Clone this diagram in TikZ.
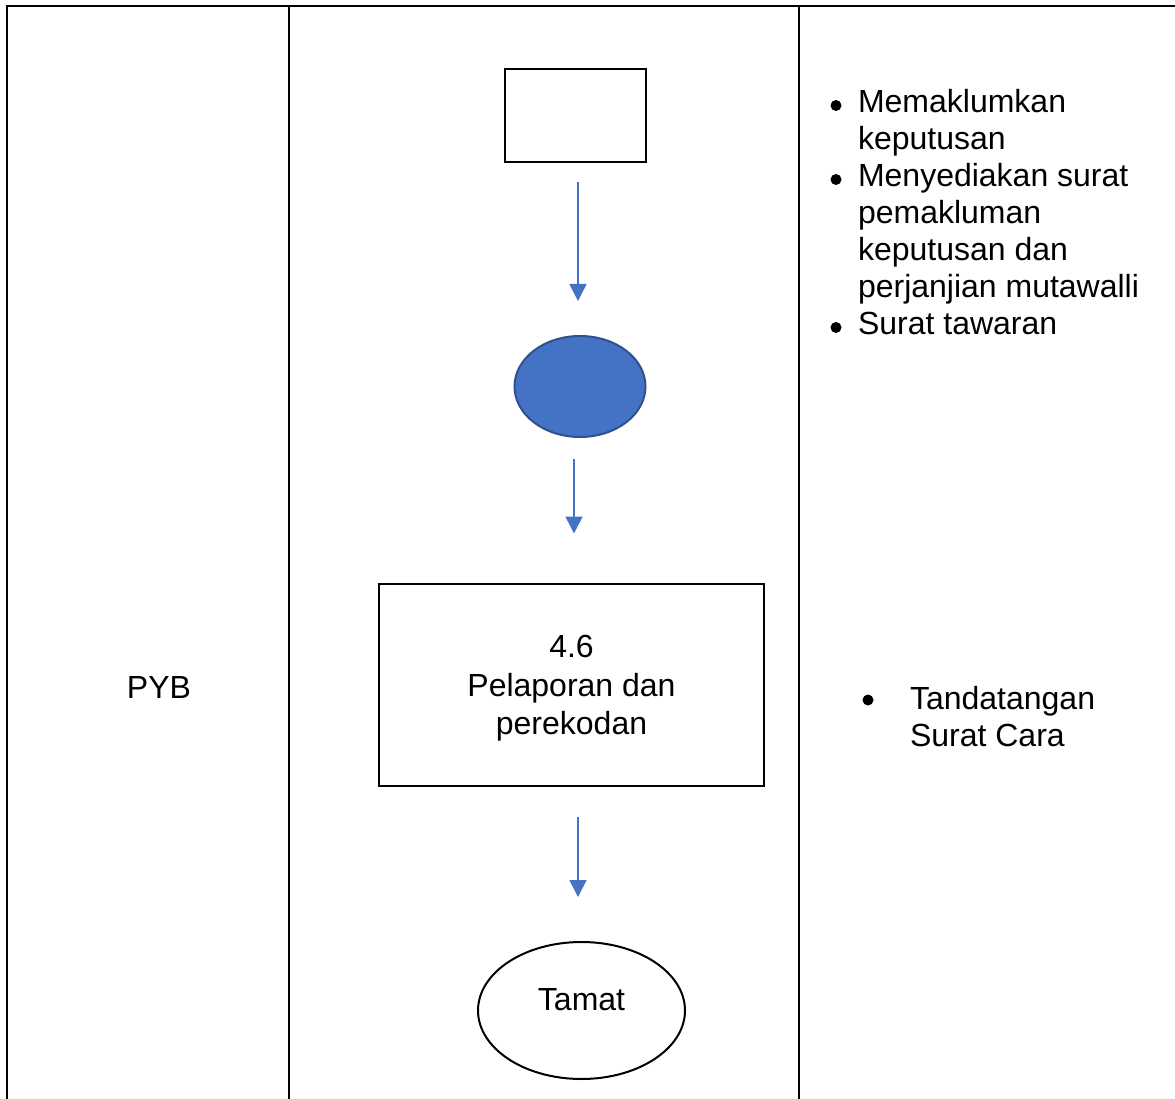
\documentclass[tikz,border=0pt]{standalone}
\usepackage{fontspec}
\setmainfont{Liberation Sans}
\usetikzlibrary{shapes.geometric,arrows.meta,calc}
\definecolor{flowblue}{HTML}{4472C4}
\definecolor{ovaledge}{HTML}{2F528F}
\begin{document}
\begin{tikzpicture}[x=1pt,y=-1pt,
  every node/.style={font=\fontsize{32}{38.5}\selectfont, inner sep=0pt, outer sep=0pt},
  gridline/.style={line width=2.4pt, black},
  procbox/.style={draw=black, line width=2pt, rectangle, align=center},
  bluefill/.style={draw=ovaledge, fill=flowblue, line width=2pt, ellipse},
  endoval/.style={draw=black, line width=2pt, ellipse},
  flow/.style={draw=flowblue, line width=1.5pt, -{Triangle[width=17pt,length=17pt,fill=flowblue]}},
  bulletdot/.style={fill=black, circle, minimum size=11pt},
  txt/.style={anchor=base west}
]
\useasboundingbox (0,0) rectangle (1175,1099);
% table lines
\draw[gridline] (7,1099) -- (7,6) -- (1175,6);
\draw[gridline] (289,6) -- (289,1099);
\draw[gridline] (799,6) -- (799,1099);

% lane label
\node[anchor=base] (pyb) at (159,698) {PYB};

% flow shapes
\node[procbox, minimum width=141pt, minimum height=93pt] (r1) at (575.5,115.5) {};
\node[bluefill, minimum width=131pt, minimum height=101pt] (oval) at (580,386.5) {};
\node[procbox, minimum width=385pt, minimum height=202pt] (r2) at (571.5,684.5) {\rule{0pt}{30pt}4.6\\Pelaporan dan\\perekodan};
\node[endoval, minimum width=207pt, minimum height=137pt] (tamat) at (581.5,1010.5) {};
\node[anchor=base] (tamattxt) at (581.5,1010) {Tamat};

% connectors
\draw[flow] ($(r1.south)+(2.5,20)$) -- ($(oval.north)+(-2,-35)$);
\draw[flow] ($(oval.south)+(-6,22)$) -- ($(r2.north)+(2.5,-50)$);
\draw[flow] ($(r2.south)+(6.5,31)$) -- ($(tamat.north)+(-3.5,-45)$);

% notes, first list
\node[bulletdot] (b1) at (836,105.5) {};
\node[txt] (t1a) at (858,112.5) {Memaklumkan};
\node[txt] (t1b) at (858,149.5) {keputusan};
\node[bulletdot] (b2) at (836,179.5) {};
\node[txt] (t2a) at (858,186.5) {Menyediakan surat};
\node[txt] (t2b) at (858,223.5) {pemakluman};
\node[txt] (t2c) at (858,260.5) {keputusan dan};
\node[txt] (t2d) at (858,297.5) {perjanjian mutawalli};
\node[bulletdot] (b3) at (836,327.5) {};
\node[txt] (t3a) at (858,334.5) {Surat tawaran};

% notes, second list
\node[bulletdot] (b4) at (868,700) {};
\node[txt] (t4a) at (910,709.5) {Tandatangan};
\node[txt] (t4b) at (910,746.5) {Surat Cara};
\end{tikzpicture}
\end{document}
